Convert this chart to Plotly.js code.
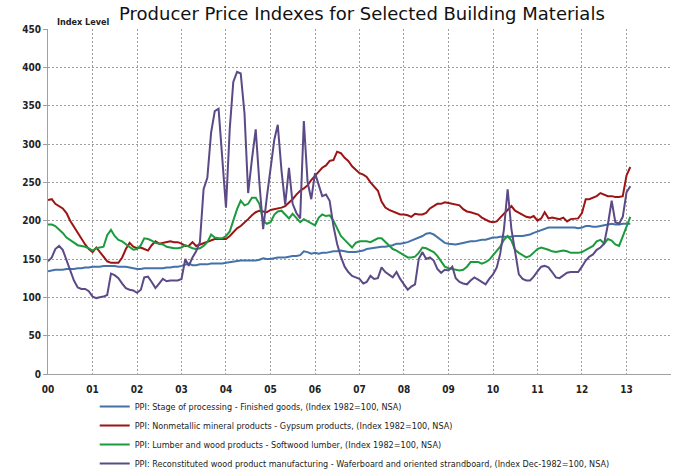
<!DOCTYPE html>
<html>
<head>
<meta charset="utf-8">
<script src="https://cdn.plot.ly/plotly-3.0.1.min.js"></script>
<style>html,body{margin:0;padding:0;background:#fff;}#chart{width:700px;height:473px;}</style>
</head>
<body>
<div id="chart"></div>
<script>
// Monthly observations, Jan 2000 .. Feb 2013
const startYear = 2000;
const nMonths = 158;

const finishedGoods = [
134,135,136,136,136,137,137,137,138,138,139,139,
140,140,140,141,141,141,141,140,140,140,139,138,
137,137,138,138,138,138,138,138,139,139,140,140,
141,143,144,142,142,143,143,143,144,144,144,144,
145,146,147,147,148,148,148,148,148,149,151,150,
150,151,152,152,152,153,154,154,155,160,159,157,
158,157,158,158,159,160,160,161,160,159,159,159,
160,161,163,164,165,166,166,166,167,168,170,170,
171,172,174,176,178,180,183,184,182,178,174,171,
170,169,169,170,171,172,173,173,174,175,175,176,
178,178,179,179,179,179,180,180,180,181,182,184,
186,188,190,191,191,191,191,191,191,191,191,190,
191,193,193,192,192,193,194,195,196,195,195,196,
196,196];

const gypsum = [
227,228,222,219,216,210,200,192,184,176,169,163,
159,165,160,153,147,145,145,145,152,163,171,166,
164,165,163,161,168,173,170,171,172,173,172,172,
170,167,167,172,167,169,170,172,174,176,176,176,
176,180,185,190,193,197,202,207,211,213,212,211,
214,215,216,217,219,223,228,234,239,242,246,253,
258,264,269,272,278,279,290,288,282,278,271,266,
262,260,257,250,245,239,225,217,214,212,210,208,
208,207,205,209,208,208,210,216,219,222,222,224,
223,222,221,220,215,212,211,209,208,204,201,199,
198,199,204,209,214,219,213,210,207,205,204,206,
200,203,211,203,204,203,202,204,199,202,203,203,
210,228,228,230,232,236,234,232,232,231,231,232,
259,270];

const softwoodLumber = [
195,195,193,189,184,178,175,172,168,167,166,164,
161,164,165,166,181,188,180,175,173,169,165,162,
163,168,177,176,174,171,170,169,166,165,164,164,
165,168,166,164,163,164,167,172,182,178,177,177,
180,186,200,215,226,220,222,230,230,222,200,196,
198,208,212,213,208,203,209,204,198,202,199,196,
194,204,208,206,207,200,189,180,175,170,165,171,
173,173,173,172,175,177,177,172,167,163,161,158,
155,152,152,153,158,165,164,162,159,154,147,140,
138,137,136,135,136,140,146,146,146,144,146,149,
155,160,166,175,180,174,162,158,155,152,154,158,
163,165,164,162,160,159,160,161,160,158,158,158,
159,162,165,167,173,175,170,176,174,169,167,180,
194,205];

const osb = [
147,152,163,167,162,148,135,122,113,111,111,108,
101,99,100,101,103,131,129,125,118,112,110,109,
106,110,126,127,120,112,118,124,121,122,122,122,
124,150,141,152,160,172,241,256,315,343,346,280,
217,320,381,394,392,340,236,280,319,250,189,230,
270,306,325,265,221,269,222,210,203,330,250,228,
262,245,232,234,226,193,170,153,140,133,128,126,
124,118,120,128,124,125,139,133,130,126,133,124,
117,110,114,117,150,159,150,152,148,137,132,136,
135,140,125,120,118,117,122,126,123,120,117,124,
130,139,157,189,241,189,161,130,124,122,122,127,
134,140,141,139,133,126,125,128,132,133,133,133,
140,148,153,156,162,165,170,195,226,198,196,205,
237,245];

const seriesNames = [
  'PPI: Stage of processing - Finished goods, (Index 1982=100, NSA)',
  'PPI: Nonmetallic mineral products - Gypsum products, (Index 1982=100, NSA)',
  'PPI: Lumber and wood products - Softwood lumber, (Index 1982=100, NSA)',
  'PPI: Reconstituted wood product manufacturing - Waferboard and oriented strandboard, (Index Dec-1982=100, NSA)'
];
const seriesColors = ['#4472a8', '#9c1414', '#1c9a3e', '#5b4a86'];

const yearTicks = ['2000','2001','2002','2003','2004','2005','2006','2007','2008','2009','2010','2011','2012','2013','2014'];
const yearLabels = ['00','01','02','03','04','05','06','07','08','09','10','11','12','13',''];

const dates = [];
for (let m = 0; m < nMonths; m++) {
  const y = startYear + Math.floor(m / 12);
  const mo = (m % 12) + 1;
  dates.push(y + '-' + (mo < 10 ? '0' + mo : mo) + '-01');
}

const allSeries = [finishedGoods, gypsum, softwoodLumber, osb];
const traces = allSeries.map((vals, i) => ({
  x: dates, y: vals, type: 'scatter', mode: 'lines',
  name: seriesNames[i],
  line: {color: seriesColors[i], width: 2}
}));

const narrow = '"Liberation Sans Narrow", "DejaVu Sans Condensed", "Liberation Sans", sans-serif';
const tickFont = {family: narrow, size: 10, color: '#222', weight: 'bold'};

const layout = {
  width: 700, height: 473,
  margin: {l: 48, r: 29, t: 29, b: 99, autoexpand: false},
  paper_bgcolor: '#fff', plot_bgcolor: '#fff',
  showlegend: true,
  title: {
    text: 'Producer Price Indexes for Selected Building Materials',
    font: {family: '"DejaVu Sans", Verdana, sans-serif', size: 18, color: '#111'},
    x: 0.517, xanchor: 'center', xref: 'container',
    y: 0.972, yanchor: 'middle', yref: 'container'
  },
  xaxis: {
    type: 'date',
    range: ['2000-01-01', '2014-01-01'],
    tickmode: 'array',
    tickvals: yearTicks.map(y => y + '-01-01'),
    ticktext: yearLabels,
    tickfont: tickFont,
    ticklabelstandoff: 6,
    showgrid: true, gridcolor: '#a0a0a0', gridwidth: 1, griddash: '2px,2px',
    showline: true, linecolor: '#a0a0a0', linewidth: 1,
    ticks: '', zeroline: false, fixedrange: true
  },
  yaxis: {
    range: [0, 450],
    tickmode: 'linear', tick0: 0, dtick: 50,
    tickfont: tickFont,
    showgrid: true, gridcolor: '#a0a0a0', gridwidth: 1, griddash: '2px,2px',
    showline: true, linecolor: '#a0a0a0', linewidth: 1,
    ticks: 'outside', ticklen: 4, tickcolor: '#a0a0a0',
    zeroline: false, fixedrange: true
  },
  legend: {
    xref: 'paper', yref: 'paper',
    x: 0.075, xanchor: 'left',
    y: -0.052, yanchor: 'top',
    orientation: 'v',
    font: {family: narrow, size: 9, color: '#222'},
    bgcolor: 'rgba(0,0,0,0)',
    itemwidth: 30
  },
  annotations: [{
    text: 'Index Level', xref: 'paper', yref: 'paper',
    x: 0.012, y: 1.0, xanchor: 'left', yanchor: 'bottom',
    showarrow: false,
    font: {family: narrow, size: 9, color: '#222', weight: 'bold'}
  }]
};

Plotly.newPlot('chart', traces, layout, {displayModeBar: false, staticPlot: true});
</script>
</body>
</html>
